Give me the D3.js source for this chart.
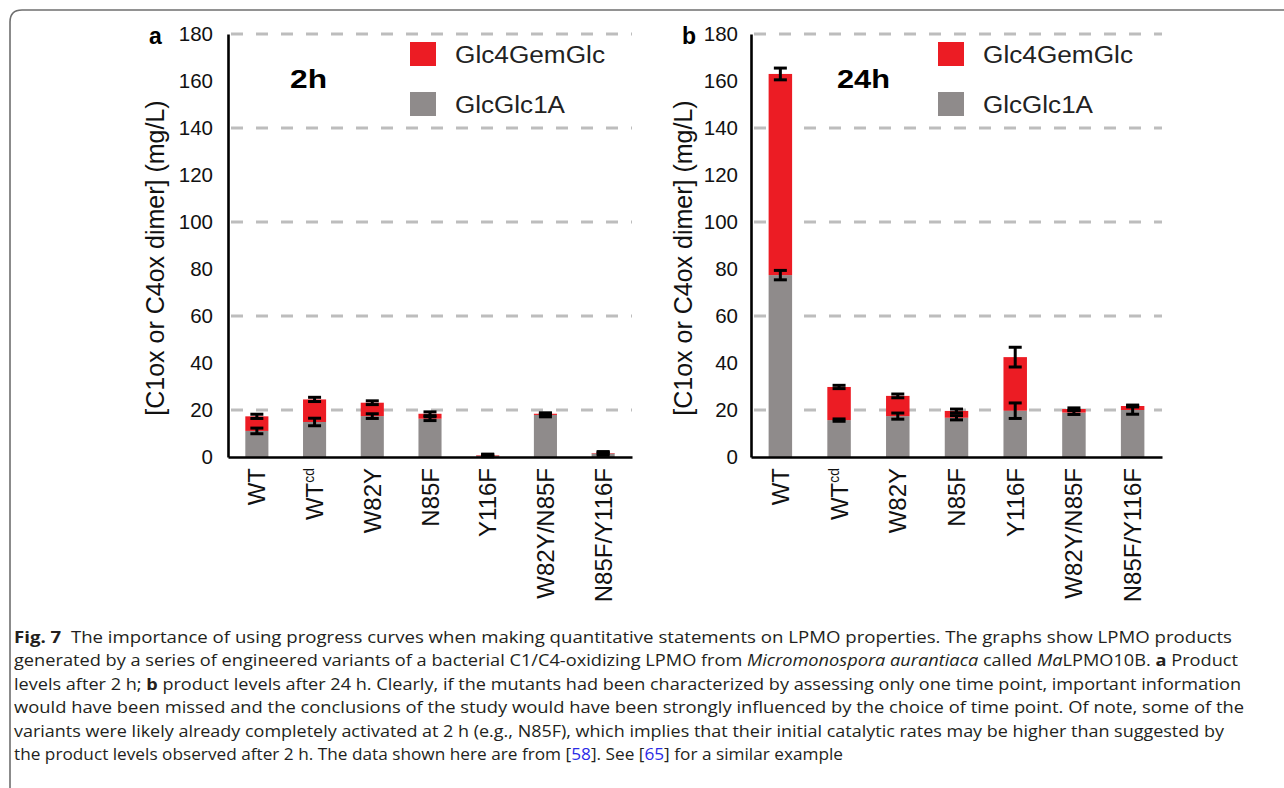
<!DOCTYPE html>
<html>
<head>
<meta charset="utf-8">
<script src="https://cdn.jsdelivr.net/npm/d3@7"></script>
<style>
  body { margin: 0; background: #fff; }
  svg { display: block; }
</style>
</head>
<body>
<div id="chart"></div>
<script>
// categories and values (mg/L)
const variants = ["WT", "WTcd", "W82Y", "N85F", "Y116F", "W82Y/N85F", "N85F/Y116F"];
const yTicks = [0, 20, 40, 60, 80, 100, 120, 140, 160, 180];
const gridLines = [20, 60, 100, 140, 180];
const seriesNames = ["Glc4GemGlc", "GlcGlc1A"];

// 2 h
const glcGlc1A_2h = [11.1, 14.9, 17.4, 16.3, 0.6, 17.9, 1.5];
const glc4Gem_2h = [6.2, 9.6, 5.7, 2.1, 0.2, 0.5, 0.2];
const errGray_2h = [1.2, 1.6, 1.0, 0.8, 0.5, 0.8, 0.8];
const errTotal_2h = [0.9, 0.9, 0.8, 0.8, 0.4, 0.3, 0.3];

// 24 h
const glcGlc1A_24h = [77.4, 15.7, 17.4, 16.7, 19.7, 18.9, 20.0];
const glc4Gem_24h = [85.6, 14.1, 8.6, 2.9, 22.8, 1.5, 1.7];
const errGray_24h = [2.0, 0.5, 1.3, 0.9, 3.3, 0.8, 1.8];
const errTotal_24h = [2.5, 0.7, 0.8, 0.8, 4.2, 0.5, 0.4];

const RED = "#ec1c24", GRAY = "#8f8b8b";
const FONT = "'Liberation Sans', Arial, Helvetica, sans-serif";

var width = 1284, height = 788;

var svg = d3.select("#chart").append("svg")
	.attr("width", width)
	.attr("height", height);

// frame round the figure
svg.append("path")
	.attr("d", "M10,800 V22 Q10,10 22,10 H1300")
	.attr("fill", "none")
	.attr("stroke", "#6f6f6f")
	.attr("stroke-width", 1.6);

const y = d3.scaleLinear().domain([0, 180]).range([457, 34]);

function drawPanel(p) {
	const g = svg.append("g").attr("font-family", FONT);
	const x = d3.scaleBand()
		.domain(variants)
		.range([p.x0, p.x1])
		.paddingInner(0.6)
		.paddingOuter(0.3);

	// dashed grid
	g.selectAll("line.grid")
		.data(gridLines)
		.join("line")
		.attr("class", "grid")
		.attr("x1", p.x0 + 3)
		.attr("x2", p.x1)
		.attr("y1", d => y(d))
		.attr("y2", d => y(d))
		.attr("stroke", "#bdbdbd")
		.attr("stroke-width", 3)
		.attr("stroke-dasharray", "12,13");

	// stacked bars
	g.selectAll("rect.gray")
		.data(variants)
		.join("rect")
		.attr("x", d => x(d))
		.attr("width", x.bandwidth())
		.attr("y", (d, i) => y(p.gray[i]))
		.attr("height", (d, i) => y(0) - y(p.gray[i]))
		.attr("fill", GRAY);

	g.selectAll("rect.red")
		.data(variants)
		.join("rect")
		.attr("x", d => x(d))
		.attr("width", x.bandwidth())
		.attr("y", (d, i) => y(p.gray[i] + p.red[i]))
		.attr("height", (d, i) => y(p.gray[i]) - y(p.gray[i] + p.red[i]))
		.attr("fill", RED);

	// error bars on both stack tops
	const errs = [];
	variants.forEach((v, i) => {
		errs.push({ v: v, val: p.gray[i], e: p.errGray[i] });
		errs.push({ v: v, val: p.gray[i] + p.red[i], e: p.errTotal[i] });
	});
	const eg = g.selectAll("g.err")
		.data(errs)
		.join("g")
		.attr("stroke", "#000")
		.attr("stroke-width", 3);
	eg.append("line")
		.attr("x1", d => x(d.v) + x.bandwidth() / 2)
		.attr("x2", d => x(d.v) + x.bandwidth() / 2)
		.attr("y1", d => y(d.val + d.e))
		.attr("y2", d => y(Math.max(0, d.val - d.e)));
	[1, -1].forEach(s => {
		eg.append("line")
			.attr("x1", d => x(d.v) + x.bandwidth() / 2 - 6.5)
			.attr("x2", d => x(d.v) + x.bandwidth() / 2 + 6.5)
			.attr("y1", d => y(Math.max(0, d.val + s * d.e)))
			.attr("y2", d => y(Math.max(0, d.val + s * d.e)));
	});

	// y axis
	const ya = g.append("g")
		.attr("transform", "translate(" + p.x0 + ",0)")
		.call(d3.axisLeft(y).tickValues(yTicks).tickSize(0).tickPadding(p.tickPad));
	ya.select(".domain").attr("stroke-width", 2.6);
	ya.selectAll("text").attr("font-size", 20.5).attr("font-family", FONT).attr("fill", "#111");

	// x axis
	const xa = g.append("g")
		.attr("transform", "translate(0," + y(0) + ")")
		.call(d3.axisBottom(x).tickSize(0));
	xa.select(".domain").attr("stroke-width", 2.6);
	xa.selectAll("text")
		.attr("font-size", 24)
		.attr("font-family", FONT)
		.attr("fill", "#111")
		.attr("text-anchor", "end")
		.attr("transform", "rotate(-90)")
		.attr("x", -11)
		.attr("y", 8.5)
		.attr("dy", 0)
		.each(function (d) {
			if (d === "WTcd") {
				const t = d3.select(this).text("WT");
				t.append("tspan")
					.attr("font-size", 14)
					.attr("dy", -9)
					.text("cd");
			}
		});

	// y title
	g.append("text")
		.attr("transform", "translate(" + p.titleX + ",258) rotate(-90)")
		.attr("text-anchor", "middle")
		.attr("font-size", 25)
		.attr("fill", "#111")
		.text("[C1ox or C4ox dimer] (mg/L)");

	// panel letter and time
	g.append("text")
		.attr("x", p.letterX).attr("y", 44)
		.attr("font-size", 23).attr("font-weight", "bold")
		.text(p.letter);
	g.append("text")
		.attr("x", p.timeX).attr("y", 88)
		.attr("font-size", 26).attr("font-weight", "bold")
		.attr("textLength", p.timeW).attr("lengthAdjust", "spacingAndGlyphs")
		.text(p.time);

	// legend
	const lg = g.selectAll("g.leg")
		.data(seriesNames)
		.join("g")
		.attr("transform", (d, i) => "translate(" + p.legX + "," + (42 + i * 50) + ")");
	lg.append("rect")
		.attr("width", 26).attr("height", 24)
		.attr("fill", (d, i) => i === 0 ? RED : GRAY);
	lg.append("text")
		.attr("x", 45).attr("y", 21)
		.attr("font-size", 23)
		.attr("fill", "#222")
		.attr("textLength", (d, i) => i === 0 ? 150 : 110)
		.attr("lengthAdjust", "spacingAndGlyphs")
		.text(d => d);
}

drawPanel({
	x0: 228, x1: 632, gray: glcGlc1A_2h, red: glc4Gem_2h,
	errGray: errGray_2h, errTotal: errTotal_2h,
	tickPad: 15, titleX: 164, letter: "a", letterX: 149,
	time: "2h", timeX: 290, timeW: 37, legX: 410
});
drawPanel({
	x0: 751, x1: 1162, gray: glcGlc1A_24h, red: glc4Gem_24h,
	errGray: errGray_24h, errTotal: errTotal_24h,
	tickPad: 13, titleX: 692, letter: "b", letterX: 682,
	time: "24h", timeX: 837, timeW: 53, legX: 938
});

// caption
const captionLines = [
	[["b", "Fig. 7"], ["", "\u00a0\u00a0The importance of using progress curves when making quantitative statements on LPMO properties. The graphs show LPMO products"]],
	[["", "generated by a series of engineered variants of a bacterial C1/C4-oxidizing LPMO from "], ["i", "Micromonospora aurantiaca"], ["", " called "], ["i", "Ma"], ["", "LPMO10B. "], ["b", "a"], ["", " Product"]],
	[["", "levels after 2 h; "], ["b", "b"], ["", " product levels after 24 h. Clearly, if the mutants had been characterized by assessing only one time point, important information"]],
	[["", "would have been missed and the conclusions of the study would have been strongly influenced by the choice of time point. Of note, some of the"]],
	[["", "variants were likely already completely activated at 2 h (e.g., N85F), which implies that their initial catalytic rates may be higher than suggested by"]],
	[["", "the product levels observed after 2 h. The data shown here are from ["], ["l", "58"], ["", "]. See ["], ["l", "65"], ["", "] for a similar example"]]
];
const captionEnds = [1232, 1238, 1241, 1244, 1224, 843];

const cap = svg.append("g")
	.attr("font-family", "'Open Sans', 'Noto Sans', sans-serif")
	.attr("font-size", 16.3)
	.attr("fill", "#231f20");
captionLines.forEach((segs, i) => {
	const t = cap.append("text")
		.attr("x", 14)
		.attr("y", 642.5 + i * 23.5)
		.attr("textLength", captionEnds[i] - 14)
		.attr("lengthAdjust", "spacingAndGlyphs");
	segs.forEach(s => {
		const ts = t.append("tspan").text(s[1]);
		if (s[0] === "b") ts.attr("font-weight", "bold");
		if (s[0] === "i") ts.attr("font-style", "italic");
		if (s[0] === "l") ts.attr("fill", "#2b2be6");
	});
});
</script>
</body>
</html>
